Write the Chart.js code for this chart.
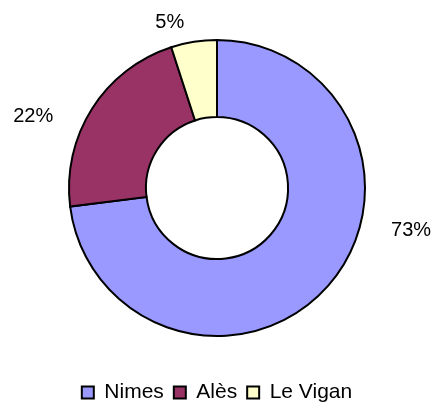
<!DOCTYPE html>
<html><head><meta charset="utf-8">
<script src="https://cdn.jsdelivr.net/npm/chart.js@4/dist/chart.umd.min.js"></script>
<style>html,body{margin:0;padding:0;background:#fff}#wrap{width:434px;height:403px}</style>
</head><body><div id="wrap"><canvas id="c" width="434" height="403"></canvas></div>
<script>
const categories = ["Nimes", "Alès", "Le Vigan"];
const values = [73, 22, 5];
const colors = ["#9999FF", "#993366", "#FFFFCC"];

const labelPlugin = {
  id: 'outLabels',
  afterDatasetsDraw(chart, args, opts) {
    const ctx = chart.ctx;
    const meta = chart.getDatasetMeta(0);
    const total = values.reduce((a, b) => a + b, 0);
    ctx.save();
    ctx.font = opts.font;
    ctx.fillStyle = '#000';
    ctx.textAlign = 'center';
    ctx.textBaseline = 'middle';
    meta.data.forEach((arc, i) => {
      const p = arc.getProps(['x', 'y', 'startAngle', 'endAngle', 'outerRadius'], true);
      const mid = (p.startAngle + p.endAngle) / 2;
      const r = p.outerRadius + opts.pad;
      const off = opts.offsets[i];
      const x = p.x + Math.cos(mid) * r + off[0];
      const y = p.y + Math.sin(mid) * r + off[1];
      ctx.fillText(Math.round(values[i] / total * 100) + '%', x, y);
    });
    ctx.restore();
  }
};

new Chart(document.getElementById('c'), {
  type: 'doughnut',
  data: {
    labels: categories,
    datasets: [{
      data: values,
      backgroundColor: colors,
      borderColor: '#000',
      borderWidth: 2,
      borderJoinStyle: 'miter',
      radius: 148,
      cutout: '48%'
    }]
  },
  options: {
    responsive: false,
    animation: false,
    layout: { padding: { top: 4, bottom: -10, left: 0, right: 0 } },
    plugins: {
      tooltip: { enabled: false },
      legend: {
        position: 'bottom',
        labels: {
          boxWidth: 12, boxHeight: 12, padding: 10,
          color: '#000',
          font: { family: '"Liberation Sans", Arial, sans-serif', size: 21 }
        }
      },
      outLabels: {
        font: '20px "Liberation Sans", Arial, sans-serif',
        pad: 20,
        offsets: [[68, -69], [-42, 19], [-21, 0]]
      }
    }
  },
  plugins: [labelPlugin]
});
</script></body></html>
